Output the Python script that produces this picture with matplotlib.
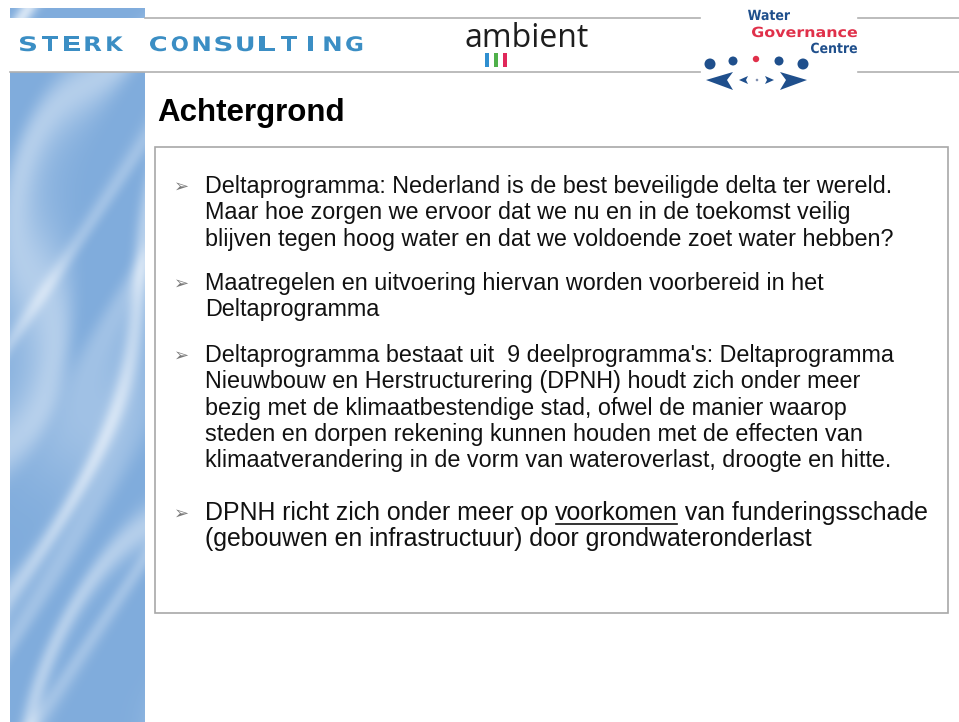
import numpy as np
import matplotlib
matplotlib.use("Agg")
import matplotlib.pyplot as plt
from matplotlib.patches import Rectangle, Circle, Polygon, PathPatch
from matplotlib.textpath import TextPath
from matplotlib.font_manager import FontProperties
from matplotlib.transforms import Affine2D

W, H = 959, 722

title = "Achtergrond"
bullets = [
    ["Deltaprogramma: Nederland is de best beveiligde delta ter wereld.",
     "Maar hoe zorgen we ervoor dat we nu en in de toekomst veilig",
     "blijven tegen hoog water en dat we voldoende zoet water hebben?"],
    ["Maatregelen en uitvoering hiervan worden voorbereid in het",
     "Deltaprogramma"],
    ["Deltaprogramma bestaat uit  9 deelprogramma's: Deltaprogramma",
     "Nieuwbouw en Herstructurering (DPNH) houdt zich onder meer",
     "bezig met de klimaatbestendige stad, ofwel de manier waarop",
     "steden en dorpen rekening kunnen houden met de effecten van",
     "klimaatverandering in de vorm van wateroverlast, droogte en hitte."],
]
last_bullet_pre = "DPNH richt zich onder meer op "
last_bullet_ul = "voorkomen"
last_bullet_post = " van funderingsschade"
last_bullet_line2 = "(gebouwen en infrastructuur) door grondwateronderlast"

fig = plt.figure(figsize=(W / 100, H / 100), dpi=100)
ax = fig.add_axes([0, 0, 1, 1])
ax.set_xlim(0, W)
ax.set_ylim(H, 0)
ax.axis("off")
fig.patch.set_facecolor("white")


def stretched_text(x_left, x_right, y_base, s, size_px, color):
    """Draw extended (horizontally stretched) bold text fitted into [x_left, x_right]."""
    fp = FontProperties(family="DejaVu Sans", weight="bold")
    tp = TextPath((0, 0), s, size=size_px, prop=fp)
    ext = tp.get_extents()
    sx = (x_right - x_left) / ext.width
    tr = Affine2D().translate(-ext.x0, 0).scale(sx, -1).translate(x_left, y_base)
    ax.add_patch(PathPatch(tr.transform_path(tp), facecolor=color, edgecolor="none",
                           zorder=3))


# --- decorative blue marble strip on the left ---
ny, nx = 714, 135
Y, X = np.mgrid[0:ny, 0:nx].astype(float)
phase1 = 0.06 * (X * 0.95 + Y * 0.40) + 2.2 * np.sin(Y / 85.0) + 1.2 * np.sin(X / 30.0 + Y / 120.0)
phase2 = 0.045 * (X * 1.0 + Y * 0.55) + 1.8 * np.sin(Y / 55.0 + X / 45.0)
s1 = ((np.sin(phase1) + 1) / 2) ** 5
s2 = ((np.sin(phase2) + 1) / 2) ** 7
f = np.clip(0.55 * s1 + 0.35 * s2, 0, 1)
base = np.array([128, 172, 220]) / 255.0
light = np.array([222, 234, 247]) / 255.0
img = base[None, None, :] * (1 - f[..., None]) + light[None, None, :] * f[..., None]
ax.imshow(img, extent=(10, 145, H, 8), aspect="auto", zorder=0, interpolation="bilinear")

# --- header band ---
ax.add_patch(Rectangle((10, 18), W - 10, 54, facecolor="white", edgecolor="none", zorder=1))
ax.plot([145, 700], [17.5, 17.5], color="#b0b0b0", lw=1.2, zorder=2)
ax.plot([858, W], [17.5, 17.5], color="#b0b0b0", lw=1.2, zorder=2)
ax.plot([10, 700], [72, 72], color="#b0b0b0", lw=1.2, zorder=2)
ax.plot([858, W], [72, 72], color="#b0b0b0", lw=1.2, zorder=2)

# STERK CONSULTING, extended and letter-spaced
sc_blue = "#3b8ec4"
step = 21.8
for word, xs in [("STERK", 20), ("CONSULTING", 150)]:
    for i, ch in enumerate(word):
        xc = xs + i * step + 8.0
        w = 5.0 if ch == "I" else 16.0
        stretched_text(xc - w / 2, xc + w / 2, 51, ch, 20.0, sc_blue)

# ambient logo
ax.text(464, 47, "ambient", fontsize=23, color="#1e1e1e", family="Open Sans",
        ha="left", va="baseline", zorder=3)
for xb, cb in [(485, "#2f8fd0"), (494, "#4fb04a"), (503, "#e0285a")]:
    ax.add_patch(Rectangle((xb, 53), 3.6, 14, facecolor=cb, edgecolor="none", zorder=3))

# Water Governance Centre logo
navy = "#1f4f8c"
stretched_text(748, 790, 20, "Water", 14.0, navy)
stretched_text(752, 857, 37, "Governance", 14.0, "#e0304a")
stretched_text(811, 857, 53, "Centre", 14.0, navy)
for (cx, cy, r, c) in [(710, 64, 5.5, navy), (733, 61, 4.5, navy),
                       (756, 59, 3.2, "#e0304a"), (779, 61, 4.5, navy),
                       (803, 64, 5.5, navy)]:
    ax.add_patch(Circle((cx, cy), r, facecolor=c, edgecolor="none", zorder=3))
ax.add_patch(Polygon([[733, 72], [706, 80], [733, 90], [727, 80]], closed=True,
                     facecolor=navy, edgecolor="none", zorder=3))
ax.add_patch(Polygon([[780, 72], [807, 80], [780, 90], [786, 80]], closed=True,
                     facecolor=navy, edgecolor="none", zorder=3))
ax.add_patch(Polygon([[748, 76], [739, 80], [748, 84], [746, 80]], closed=True,
                     facecolor=navy, edgecolor="none", zorder=3))
ax.add_patch(Polygon([[765, 76], [774, 80], [765, 84], [767, 80]], closed=True,
                     facecolor=navy, edgecolor="none", zorder=3))
ax.add_patch(Circle((757, 80), 1.3, facecolor="#8090b0", edgecolor="none", zorder=3))

# --- title ---
ax.text(157, 121, title, fontsize=22.5, fontweight="bold", color="black",
        family="Liberation Sans", ha="left", va="baseline", zorder=3)

# --- content box ---
ax.add_patch(Rectangle((155, 147), 793, 466, facecolor="white", edgecolor="#a8a8a8",
                       lw=1.2, zorder=2))

line_h = 26.3
text_x = 205
bullet_x = 174
fs = 16.8
starts = [193, 290, 362]
for b, ys in zip(bullets, starts):
    ax.text(bullet_x, ys - 1, "\u27A2", fontsize=13, color="#7a7a7a",
            family="DejaVu Sans", ha="left", va="baseline", zorder=3)
    for k, line in enumerate(b):
        ax.text(text_x, ys + k * line_h, line, fontsize=fs, color="#111111",
                family="Liberation Sans", ha="left", va="baseline", zorder=3)

# last bullet (narrow font with underlined word)
yl = 520
ax.text(bullet_x, yl - 1, "\u27A2", fontsize=13, color="#7a7a7a",
        family="DejaVu Sans", ha="left", va="baseline", zorder=3)
fig.canvas.draw()
renderer = fig.canvas.get_renderer()
fam = ["Liberation Sans Narrow", "Liberation Sans"]
fs2 = 17.9
t1 = ax.text(text_x, yl, last_bullet_pre, fontsize=fs2, color="#111111", family=fam,
             ha="left", va="baseline", zorder=3)
bb1 = t1.get_window_extent(renderer)
x_ul = text_x + bb1.width
t2 = ax.text(x_ul, yl, last_bullet_ul, fontsize=fs2, color="#111111", family=fam,
             ha="left", va="baseline", zorder=3)
bb2 = t2.get_window_extent(renderer)
x_post = x_ul + bb2.width
ax.plot([x_ul + 1, x_post - 1], [yl + 4, yl + 4], color="#111111", lw=1.2, zorder=3)
ax.text(x_post, yl, last_bullet_post, fontsize=fs2, color="#111111", family=fam,
        ha="left", va="baseline", zorder=3)
ax.text(text_x, yl + line_h, last_bullet_line2, fontsize=fs2, color="#111111", family=fam,
        ha="left", va="baseline", zorder=3)

fig.savefig("out.png", dpi=100, facecolor="white")
